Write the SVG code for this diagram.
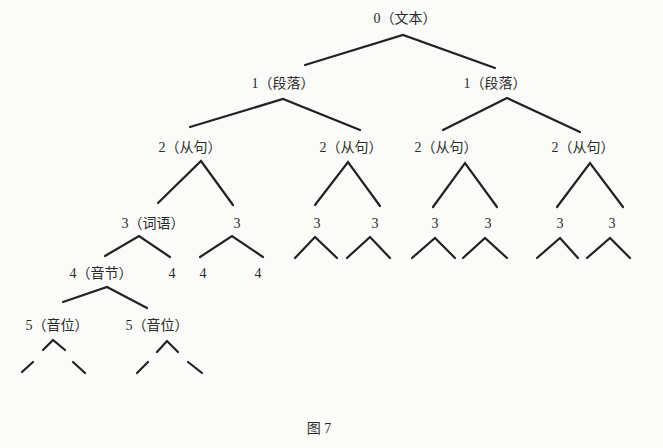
<svg xmlns="http://www.w3.org/2000/svg" width="663" height="448" viewBox="0 0 663 448">
<style>
text{font-family:"Liberation Serif","Noto Sans CJK SC",serif;font-size:14px;fill:#2a2a2a;text-anchor:middle}
.c line,.c polyline{stroke:#222;stroke-width:2.2;fill:none;stroke-linecap:round;stroke-linejoin:miter}
</style>
<rect width="663" height="448" fill="#fbfbfa"/>
<g id="n0"><text x="405" y="23">0（文本）</text></g>
<g id="n1a"><text x="283" y="88">1（段落）</text></g>
<g id="n1b"><text x="495" y="88">1（段落）</text></g>
<g id="n2a"><text x="190" y="152">2（从句）</text></g>
<g id="n2b"><text x="351" y="152">2（从句）</text></g>
<g id="n2c"><text x="446" y="152">2（从句）</text></g>
<g id="n2d"><text x="583" y="152">2（从句）</text></g>
<g id="n3a"><text x="153" y="228">3（词语）</text></g>
<g id="n3b"><text x="237" y="228">3</text></g>
<g id="n3c"><text x="317" y="228">3</text></g>
<g id="n3d"><text x="375" y="228">3</text></g>
<g id="n3e"><text x="435" y="228">3</text></g>
<g id="n3f"><text x="488" y="228">3</text></g>
<g id="n3g"><text x="560" y="228">3</text></g>
<g id="n3h"><text x="612" y="228">3</text></g>
<g id="n4a"><text x="101" y="278">4（音节）</text></g>
<g id="n4b"><text x="172" y="278">4</text></g>
<g id="n4c"><text x="203" y="278">4</text></g>
<g id="n4d"><text x="258" y="278">4</text></g>
<g id="n5a"><text x="57" y="330">5（音位）</text></g>
<g id="n5b"><text x="157" y="330">5（音位）</text></g>
<g id="caption"><text x="319" y="433">图 7</text></g>
<g class="c" id="connectors">
<polyline points="305,65 403,35 495,68"/>
<polyline points="190,127 283,99 360,130"/>
<polyline points="443,130 507,98 580,132"/>
<polyline points="158,203 201,161 233,205"/>
<polyline points="315,205 348,162 380,206"/>
<polyline points="433,207 465,163 497,207"/>
<polyline points="557,207 590,163 623,207"/>
<polyline points="105,256 139,236 170,257"/>
<polyline points="200,257 232,236 263,257"/>
<polyline points="295,258 315,237 337,258"/>
<polyline points="347,258 370,237 390,258"/>
<polyline points="412,258 435,238 455,258"/>
<polyline points="463,258 485,238 507,258"/>
<polyline points="537,258 560,238 578,258"/>
<polyline points="587,258 610,238 630,258"/>
<polyline points="63,302 107,287 147,308"/>
<polyline points="43,350 53,340 65,350"/>
<line x1="22" y1="372" x2="33" y2="362"/>
<line x1="73" y1="362" x2="85" y2="373"/>
<polyline points="157,352 167,341 178,352"/>
<line x1="137" y1="373" x2="148" y2="362"/>
<line x1="188" y1="362" x2="202" y2="373"/>
</g>
</svg>
